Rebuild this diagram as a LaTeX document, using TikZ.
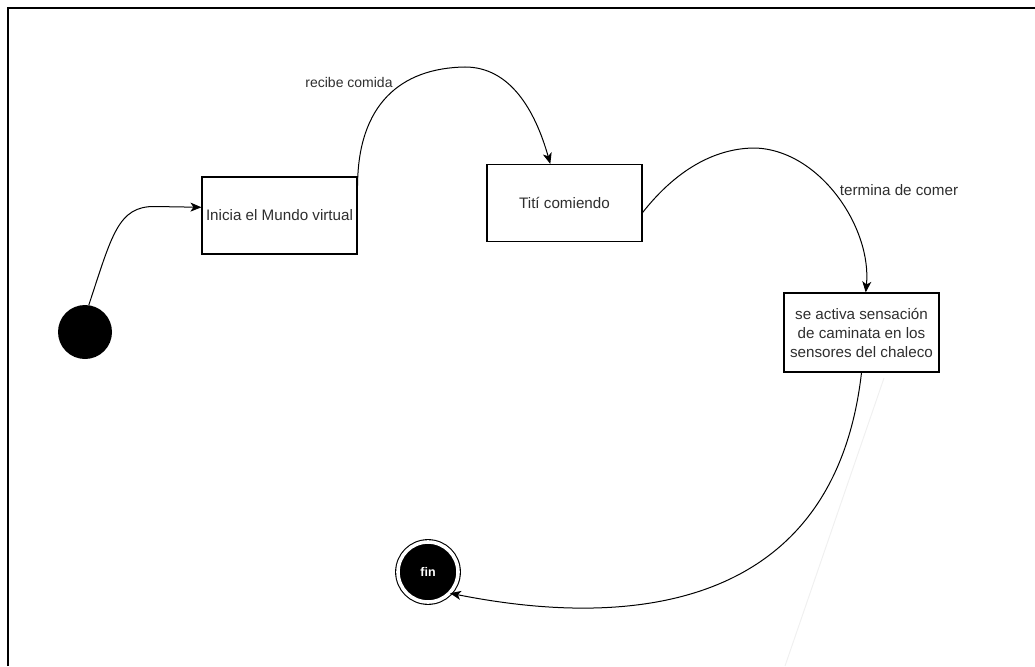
\documentclass[tikz,border=0pt]{standalone}
\usepackage{fontspec}
\setmainfont{Liberation Sans}
\usetikzlibrary{arrows.meta, positioning}

\begin{document}
\begin{tikzpicture}[x=1pt, y=-1pt,
  txt/.style={font=\fontsize{15.2}{19}\selectfont, text=black!82},
  state/.style={txt, draw, line width=1.1pt, minimum width=155pt,
                minimum height=77pt, inner sep=2pt, align=center},
  flow/.style={-{Stealth[length=11pt,width=9pt,inset=3pt]}, line width=1pt}]
  \useasboundingbox (0,0) rectangle (1035,666);
  % window frame
  \draw[line width=2.2pt] (8,666) -- (8,8) -- (1035,8);
  \draw[black!6, line width=1pt] (884,378) -- (785,666);
  % states
  \node[circle, fill=black, minimum size=54pt, inner sep=0pt] (ini) at (85,332) {};
  \node[state] (mundo)   at (279.5,215.5) {Inicia el Mundo virtual};
  \node[state] (titi)    at (564.5,203)   {Tití comiendo};
  \node[state, minimum height=79pt] (chaleco) at (861.5,332.5)
        {se activa sensación\\de caminata en los\\sensores del chaleco};
  \node[circle, fill=black, draw, line width=1.1pt, double=white,
        double distance=3.6pt, minimum size=60pt, inner sep=0pt,
        text=white, font=\fontsize{12.5}{14}\selectfont\bfseries] (fin) at (428,572) {fin};
  % labels
  \node[txt, font=\fontsize{14}{17}\selectfont] (lblcomida) at (349,82) {recibe comida};
  \node[txt] (lblcomer)  at (899,190) {termina de comer};
  % transitions
  \draw[flow] (ini.82) .. controls (112,235) and (118,206) .. (155,206.5) -- (mundo.174);
  \draw[flow] (mundo.21) .. controls (358,105) and (400,68) .. (465,67)
              .. controls (510,67) and (535,110) .. (titi.110);
  \draw[flow] (titi.-7) .. controls (680,165) and (720,148) .. (755,148)
              .. controls (820,150) and (872,228) .. (chaleco.84);
  \draw[flow] (chaleco.south) .. controls (830,650) and (560,615) .. (fin.-44);
\end{tikzpicture}
\end{document}
